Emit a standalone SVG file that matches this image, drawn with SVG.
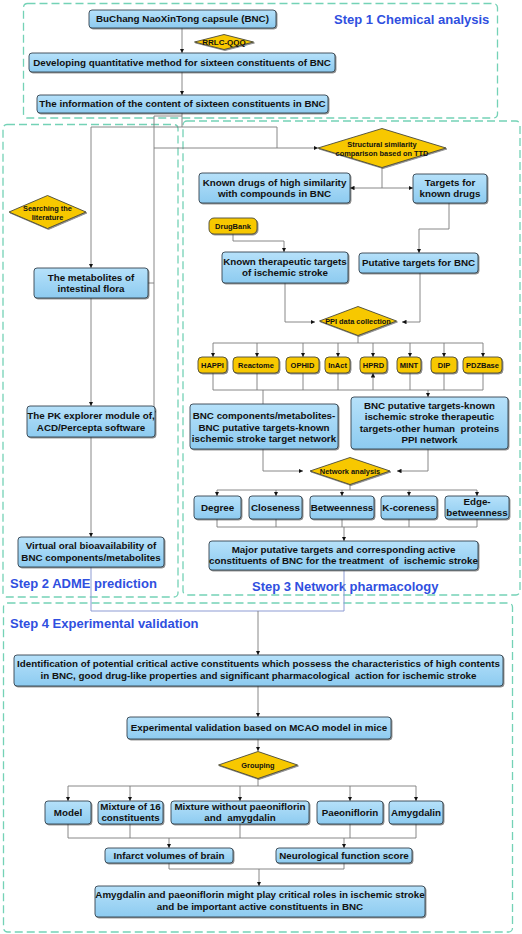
<svg xmlns="http://www.w3.org/2000/svg" width="522" height="934" viewBox="0 0 522 934">
<style>
.step{fill:none;stroke:#74d2b6;stroke-width:1.3;stroke-dasharray:8 4}
.box{fill:url(#bg);stroke:#34434e;stroke-width:0.9;filter:url(#sh)}
.dia{fill:#f7c800;stroke:#4a4a3a;stroke-width:0.9;filter:url(#sh)}
.db{fill:#f7c800;stroke:#4a4a3a;stroke-width:0.9;filter:url(#sh)}
text{font-family:"Liberation Sans",Arial,sans-serif;font-weight:bold;fill:#111;text-anchor:middle;white-space:pre}
.t{font-size:9.8px}
.s{font-size:7.4px}
.d{font-size:7.5px}
.lab{font-size:13px;fill:#2f4fe0;text-anchor:start}
.c{fill:none;stroke:#7a7a7a;stroke-width:0.9}
.a{marker-end:url(#ar)}
.lv{fill:none;stroke:#8d9bd3;stroke-width:1}
</style>
<defs>
<linearGradient id="bg" x1="0" y1="0" x2="0" y2="1">
<stop offset="0" stop-color="#b6e1fa"/>
<stop offset="1" stop-color="#8dcbf0"/>
</linearGradient>
<filter id="sh" x="-10%" y="-20%" width="120%" height="150%">
<feDropShadow dx="1" dy="1" stdDeviation="0.5" flood-color="#333" flood-opacity="0.55"/>
</filter>
<marker id="ar" viewBox="0 0 6 6" refX="6" refY="3" markerWidth="4.5" markerHeight="4.5" markerUnits="userSpaceOnUse" orient="auto">
<path d="M0,0 L6,3 L0,6 z" fill="#111"/>
</marker>
</defs>
<rect width="522" height="934" fill="#fff"/>

<g id="steps">
<rect class="step" x="23.5" y="3.5" width="474" height="114.5" rx="4"/>
<rect class="step" x="3" y="124.5" width="175" height="472.5" rx="4"/>
<rect class="step" x="183" y="121" width="337" height="474" rx="4"/>
<rect class="step" x="3.5" y="603" width="509" height="329" rx="4"/>
<text class="lab" x="334" y="23.5">Step 1 Chemical analysis</text>
<text class="lab" x="10" y="587.5">Step 2 ADME prediction</text>
<text class="lab" x="252" y="590.5">Step 3 Network pharmacology</text>
<text class="lab" x="10" y="627.5">Step 4 Experimental validation</text>
</g>

<g id="connectors">
<path class="c a" d="M182,28 V53"/>
<path class="c a" d="M182,72 V95"/>
<path class="c" d="M182,113 V127"/>
<path class="c" d="M91,127 H277 V148"/>
<path class="c a" d="M91,127 V268"/>
<path class="c" d="M154,116 H182"/>
<path class="c a" d="M154,116 V415"/>
<path class="c" d="M148,283 H154"/>
<path class="c a" d="M154,148 H318"/>
<path class="c a" d="M91,298 V406"/>
<path class="c a" d="M91,437 V537"/>
<path class="lv" d="M91,567 V611 H344 V570"/>
<path class="c" d="M382,168 V188"/>
<path class="c a" d="M382,188 H350"/>
<path class="c a" d="M382,188 H413"/>
<path class="c a" d="M449,203 V229 H419 V253"/>
<path class="c a" d="M233,234 V241 H284 V252"/>
<path class="c a" d="M285,283 V322 H315"/>
<path class="c a" d="M420,273 V322 H402"/>
<path class="c" d="M358,336 V343 M213,343 H483"/>
<path class="c a" d="M213,343 V357"/>
<path class="c a" d="M257,343 V357"/>
<path class="c a" d="M303,343 V357"/>
<path class="c a" d="M338,343 V357"/>
<path class="c a" d="M373,343 V357"/>
<path class="c a" d="M410,343 V357"/>
<path class="c a" d="M444,343 V357"/>
<path class="c a" d="M483,343 V357"/>
<path class="c" d="M213,373 V390 H483 V373 M257,373 V390 M303,373 V390 M338,373 V390 M410,373 V390 M444,373 V390"/>
<path class="c a" d="M373,390 V373"/>
<path class="c" d="M263,390 V404"/>
<path class="c a" d="M428,390 V397"/>
<path class="c a" d="M263,449 V471 H303"/>
<path class="c a" d="M428,449 V471 H397"/>
<path class="c" d="M350,484 V490 M217,490 H477"/>
<path class="c a" d="M217,490 V496"/>
<path class="c a" d="M276,490 V496"/>
<path class="c a" d="M342,490 V496"/>
<path class="c a" d="M409,490 V496"/>
<path class="c a" d="M477,490 V496"/>
<path class="c" d="M217,519 V527 H477 V519 M276,519 V527 M342,519 V527 M409,519 V527"/>
<path class="c a" d="M344,527 V541"/>
<path class="c a" d="M258,611 V655"/>
<path class="c a" d="M258,686 V717"/>
<path class="c a" d="M258,739 V751"/>
<path class="c" d="M258,778 V786 M68,786 H416"/>
<path class="c a" d="M68,786 V801"/>
<path class="c a" d="M130,786 V801"/>
<path class="c a" d="M240,786 V801"/>
<path class="c a" d="M350,786 V801"/>
<path class="c a" d="M416,786 V801"/>
<path class="c" d="M68,824 V838 H416 V824 M130,824 V838 M240,824 V838 M350,824 V838"/>
<path class="c a" d="M169,838 V848"/>
<path class="c a" d="M344,838 V848"/>
<path class="c" d="M169,863 V869 H344 V863"/>
<path class="c a" d="M259,869 V886"/>
</g>

<g id="n-bnc"><rect class="box" x="89" y="10" width="187" height="18" rx="3"/><text class="t" x="182.5" y="22.4">BuChang NaoXinTong capsule (BNC)</text></g>
<g id="n-rrlc"><polygon class="dia" points="194.5,42 224,34.5 253.5,42 224,49.5"/><text class="s" x="224" y="44.9" style="font-size:8px">RRLC-QQQ</text></g>
<g id="n-method"><rect class="box" x="29" y="53" width="306" height="19" rx="3"/><text class="t" x="182" y="65.9">Developing quantitative method for sixteen constituents of BNC</text></g>
<g id="n-info"><rect class="box" x="37" y="95" width="291" height="18" rx="3"/><text class="t" x="182.5" y="107.4">The information of the content of sixteen constituents in BNC</text></g>

<g id="n-lit"><polygon class="dia" points="9,212 47.5,195.5 86,212 47.5,228.5"/><text class="s" x="47.5" y="210.6">Searching the</text><text class="s" x="47.5" y="219.6">literature</text></g>
<g id="n-metab"><rect class="box" x="34" y="268" width="114" height="30" rx="3"/><text class="t" x="91" y="280.9">The metabolites of</text><text class="t" x="91" y="292.4">intestinal flora</text></g>
<g id="n-pk"><rect class="box" x="27" y="406" width="128" height="31" rx="3"/><text class="t" x="91" y="418.9">The PK explorer module of,</text><text class="t" x="91" y="430.9">ACD/Percepta software</text></g>
<g id="n-virt"><rect class="box" x="18" y="537" width="146" height="30" rx="3"/><text class="t" x="91" y="549.4">Virtual oral bioavailability of</text><text class="t" x="91" y="561.4">BNC components/metabolites</text></g>

<g id="n-struct"><polygon class="dia" points="318,148 382,128.5 446,148 382,167.5"/><text class="s" x="382" y="146.6">Structural similarity</text><text class="s" x="382" y="155.6">comparison based on TTD</text></g>
<g id="n-known"><rect class="box" x="199" y="173" width="151" height="30" rx="3"/><text class="t" x="274.5" y="186.4">Known drugs of high similarity</text><text class="t" x="274.5" y="197.4">with compounds in BNC</text></g>
<g id="n-targets"><rect class="box" x="413" y="174" width="74" height="29" rx="3"/><text class="t" x="450" y="186.4">Targets for</text><text class="t" x="450" y="197.4">known drugs</text></g>
<g id="n-drugbank"><rect class="db" x="209" y="218" width="48" height="16" rx="5"/><text class="d" x="233" y="228.7">DrugBank</text></g>
<g id="n-putative"><rect class="box" x="359" y="253" width="119" height="20" rx="3"/><text class="t" x="418.5" y="266.4">Putative targets for BNC</text></g>
<g id="n-thera"><rect class="box" x="222" y="252" width="126" height="31" rx="3"/><text class="t" x="285" y="265.4">Known therapeutic targets</text><text class="t" x="285" y="276.4">of ischemic stroke</text></g>
<g id="n-ppi"><polygon class="dia" points="319.5,321 358,306.5 396.5,321 358,335.5"/><text class="s" x="358" y="323.7">PPI data collection</text></g>

<g id="n-happi"><rect class="db" x="198" y="357" width="29" height="16" rx="4"/><text class="d" x="212.5" y="367.7">HAPPI</text></g>
<g id="n-reactome"><rect class="db" x="233" y="357" width="46" height="16" rx="4"/><text class="d" x="256" y="367.7">Reactome</text></g>
<g id="n-ophid"><rect class="db" x="286" y="357" width="33" height="16" rx="4"/><text class="d" x="302.5" y="367.7">OPHID</text></g>
<g id="n-inact"><rect class="db" x="325" y="357" width="25" height="16" rx="4"/><text class="d" x="337.5" y="367.7">InAct</text></g>
<g id="n-hprd"><rect class="db" x="360" y="357" width="27" height="16" rx="4"/><text class="d" x="373.5" y="367.7">HPRD</text></g>
<g id="n-mint"><rect class="db" x="397" y="357" width="24" height="16" rx="4"/><text class="d" x="409" y="367.7">MINT</text></g>
<g id="n-dip"><rect class="db" x="431" y="357" width="26" height="16" rx="4"/><text class="d" x="444" y="367.7">DIP</text></g>
<g id="n-pdz"><rect class="db" x="463" y="357" width="39" height="16" rx="4"/><text class="d" x="482.5" y="367.7">PDZBase</text></g>

<g id="n-net1"><rect class="box" x="190" y="404" width="148" height="45" rx="3"/><text class="t" x="264" y="419.4">BNC components/metabolites-</text><text class="t" x="264" y="430.9">BNC putative targets-known</text><text class="t" x="264" y="442.4">ischemic stroke target network</text></g>
<g id="n-net2"><rect class="box" x="351" y="397" width="157" height="52" rx="3"/><text class="t" x="429.5" y="408.9">BNC putative targets-known</text><text class="t" x="429.5" y="420.4">ischemic stroke therapeutic</text><text class="t" x="429.5" y="431.9">targets-other human  proteins</text><text class="t" x="429.5" y="443.4">PPI network</text></g>
<g id="n-netana"><polygon class="dia" points="310,471 350,457.5 390,471 350,484.5"/><text class="s" x="350" y="473.7">Network analysis</text></g>

<g id="n-degree"><rect class="box" x="194" y="496" width="47" height="23" rx="3"/><text class="t" x="217.5" y="510.9">Degree</text></g>
<g id="n-close"><rect class="box" x="249" y="496" width="53" height="23" rx="3"/><text class="t" x="275.5" y="510.9">Closeness</text></g>
<g id="n-between"><rect class="box" x="310" y="496" width="64" height="23" rx="3"/><text class="t" x="342" y="510.9">Betweenness</text></g>
<g id="n-kcore"><rect class="box" x="381" y="496" width="56" height="23" rx="3"/><text class="t" x="409" y="510.9">K-coreness</text></g>
<g id="n-edge"><rect class="box" x="445" y="496" width="64" height="23" rx="3"/><text class="t" x="477" y="505.4">Edge-</text><text class="t" x="477" y="516.4">betweenness</text></g>
<g id="n-major"><rect class="box" x="209" y="541" width="269" height="29" rx="3"/><text class="t" x="343.5" y="552.9">Major putative targets and corresponding active</text><text class="t" x="343.5" y="564.4">constituents of BNC for the treatment  of  ischemic stroke</text></g>

<g id="n-ident"><rect class="box" x="14" y="655" width="489" height="31" rx="3"/><text class="t" x="258.5" y="667.4">Identification of potential critical active constituents which possess the characteristics of high contents</text><text class="t" x="258.5" y="679.4">in BNC, good drug-like properties and significant pharmacological  action for ischemic stroke</text></g>
<g id="n-exp"><rect class="box" x="127" y="717" width="264" height="22" rx="3"/><text class="t" x="259" y="731.4">Experimental validation based on MCAO model in mice</text></g>
<g id="n-group"><polygon class="dia" points="218.5,765 258,751.5 297.5,765 258,778.5"/><text class="s" x="258" y="767.7">Grouping</text></g>

<g id="n-model"><rect class="box" x="45" y="801" width="46" height="23" rx="3"/><text class="t" x="68" y="815.9">Model</text></g>
<g id="n-mix16"><rect class="box" x="98" y="801" width="65" height="23" rx="3"/><text class="t" x="130.5" y="810.4">Mixture of 16</text><text class="t" x="130.5" y="821.4">constituents</text></g>
<g id="n-mixwo"><rect class="box" x="171" y="801" width="138" height="23" rx="3"/><text class="t" x="240" y="810.4">Mixture without paeoniflorin</text><text class="t" x="240" y="821.4">and  amygdalin</text></g>
<g id="n-paeon"><rect class="box" x="317" y="801" width="66" height="23" rx="3"/><text class="t" x="350" y="815.9">Paeoniflorin</text></g>
<g id="n-amyg"><rect class="box" x="389" y="801" width="54" height="23" rx="3"/><text class="t" x="416" y="815.9">Amygdalin</text></g>
<g id="n-infarct"><rect class="box" x="105" y="848" width="128" height="15" rx="3"/><text class="t" x="169" y="858.9">Infarct volumes of brain</text></g>
<g id="n-neuro"><rect class="box" x="276" y="848" width="136" height="15" rx="3"/><text class="t" x="344" y="858.9">Neurological function score</text></g>
<g id="n-final"><rect class="box" x="95" y="886" width="330" height="31" rx="3"/><text class="t" x="260" y="898.4">Amygdalin and paeoniflorin might play critical roles in ischemic stroke</text><text class="t" x="260" y="910.4">and be important active constituents in BNC</text></g>
</svg>
